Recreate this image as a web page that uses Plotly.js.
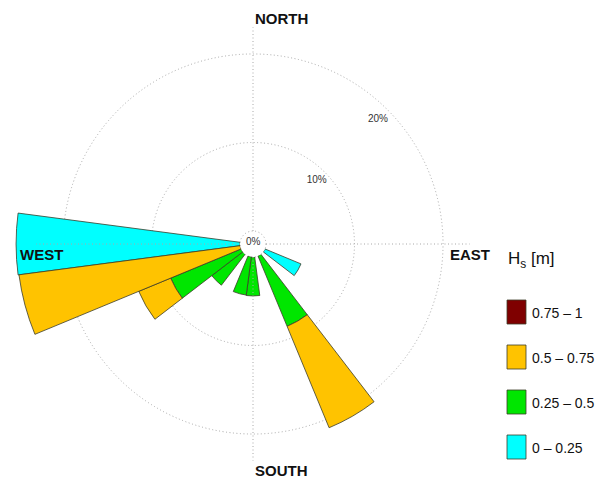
<!DOCTYPE html>
<html>
<head>
<meta charset="utf-8">
<script src="https://cdn.plot.ly/plotly-3.0.1.min.js"></script>
<style>html,body{margin:0;padding:0;background:#fff;}#chart{width:601px;height:482px;}</style>
</head>
<body>
<div id="chart"></div>
<script>
// ---- data (percent of occurrence per 15° direction sector) ----
var directions = [0,15,30,45,60,75,90,105,120,135,150,165,180,195,210,225,240,255,270,285,300,315,330,345];
var hs_0_025    = [0,0,0,0,0,0,0,0,4.4,0,0,0,0,0,0,0,0,0,25.3,0,0,0,0,0];
var hs_025_05   = [0,0,0,0,0,0,0,0,0,0,8.6,0,4.4,4.35,0,4.4,8.6,0,0,0,0,0,0,0];
var hs_05_075   = [0,0,0,0,0,0,0,0,0,0,12.4,0,0,0,0,0,3.9,25.2,0,0,0,0,0,0];
var hs_075_1    = [0,0,0,0,0,0,0,0,0,0,0,0,0,0,0,0,0,0,0,0,0,0,0,0];
var binLabels   = ['0 \u2013 0.25','0.25 \u2013 0.5','0.5 \u2013 0.75','0.75 \u2013 1'];
var binColors   = ['#00FFFF','#00E600','#FFC300','#7F0000'];
var radialTicks = [10,20];
var radialTickText = ['10%','20%'];
var compassNames = ['NORTH','EAST','SOUTH','WEST'];
var compassAngles = [0,90,180,270];

var series = [hs_0_025, hs_025_05, hs_05_075, hs_075_1];

// pixel -> paper helpers (layout only)
var W = 601, H = 482, MT = 6;
function px(x){ return x / W; }
function py(y){ return (H - y) / (H - MT); }

var FONT = 'Liberation Sans, Arial, sans-serif';
var GRID = '#a8a8a8';
var DOT = '1px,2.5px';

var traces = [];

// dotted spokes N/E/S/W
var spokeR = [], spokeT = [];
compassAngles.forEach(function(a){ spokeR.push(0, 23, null); spokeT.push(a, a, null); });
traces.push({
  type: 'scatterpolar', mode: 'lines', r: spokeR, theta: spokeT,
  line: {color: GRID, width: 1, dash: DOT},
  hoverinfo: 'skip', showlegend: false, connectgaps: false
});

// stacked bars (inner to outer)
series.forEach(function(vals, i){
  var fullR = vals.map(function(v){ return v > 0 ? v : null; });
  traces.push({
    type: 'barpolar', name: binLabels[i], r: fullR, theta: directions,
    width: 15,
    marker: {color: binColors[i], line: {color: '#3c3c28', width: 0.8}},
    showlegend: false
  });
});

// radial tick labels at 45°
traces.push({
  type: 'scatterpolar', mode: 'text', r: [8.7, 18.5], theta: [45, 45],
  text: radialTickText, textfont: {family: FONT, size: 10, color: '#333'},
  hoverinfo: 'skip', showlegend: false
});

var annotations = [];
// 0% at centre
annotations.push({xref:'paper', yref:'paper', x: px(253), y: py(241), text:'0%', showarrow:false,
  xanchor:'center', yanchor:'middle', font:{family:FONT, size:10, color:'#333'}});
// compass labels
var compassPos = [[253,18],[448,255],[253,470],[18,255]];
compassNames.forEach(function(n, i){
  annotations.push({xref:'paper', yref:'paper', x: px(compassPos[i][0]), y: py(compassPos[i][1]), text: '<b>' + n + '</b>',
    showarrow:false, xanchor:'left', yanchor:'middle',
    font:{family:FONT, size:15, color:'#111'}});
});
// legend title
annotations.push({xref:'paper', yref:'paper', x: px(506), y: py(260), text:'H<sub>s</sub> [m]', showarrow:false,
  xanchor:'left', yanchor:'middle', font:{family:FONT, size:17, color:'#111'}});

var shapes = [];
// dotted 0% circle around the hole
var R = 238, hole = 13, CX = 253, CY = 244;
shapes.push({type:'circle', xref:'paper', yref:'paper', x0: px(CX-hole), x1: px(CX+hole), y0: py(CY+hole), y1: py(CY-hole),
  line:{color: GRID, width: 1, dash: DOT}, fillcolor:'rgba(0,0,0,0)', layer:'below'});

// custom legend (outer bin first)
var legendY = [312, 357, 402, 447];
for (var j = 0; j < 4; j++) {
  var idx = 3 - j;
  var cy = legendY[j];
  shapes.push({type:'rect', xref:'paper', yref:'paper', x0: px(507), x1: px(526), y0: py(cy+12), y1: py(cy-12),
    fillcolor: binColors[idx], line:{color:'#3c3c28', width:0.8}});
  annotations.push({xref:'paper', yref:'paper', x: px(530), y: py(cy+1), text: binLabels[idx], showarrow:false,
    xanchor:'left', yanchor:'middle', font:{family:FONT, size:14, color:'#111'}});
}

var layout = {
  width: W, height: H,
  margin: {l:0, r:0, t:MT, b:0, pad:0},
  paper_bgcolor: '#fff',
  showlegend: false,
  polar: {
    domain: {x: [(CX-R)/W, (CX+R)/W], y: [0, 1]},
    hole: hole / R,
    bgcolor: 'rgba(0,0,0,0)',
    barmode: 'stack',
    radialaxis: {range: [0, 25.42], tickvals: radialTicks, showticklabels: false, ticks: '',
      showline: false, showgrid: true, gridcolor: GRID, griddash: DOT, gridwidth: 1},
    angularaxis: {rotation: 90, direction: 'clockwise', showgrid: false, showline: false,
      showticklabels: false, ticks: ''}
  },
  annotations: annotations,
  shapes: shapes
};

Plotly.newPlot('chart', traces, layout, {displayModeBar: false, staticPlot: true});
</script>
</body>
</html>
